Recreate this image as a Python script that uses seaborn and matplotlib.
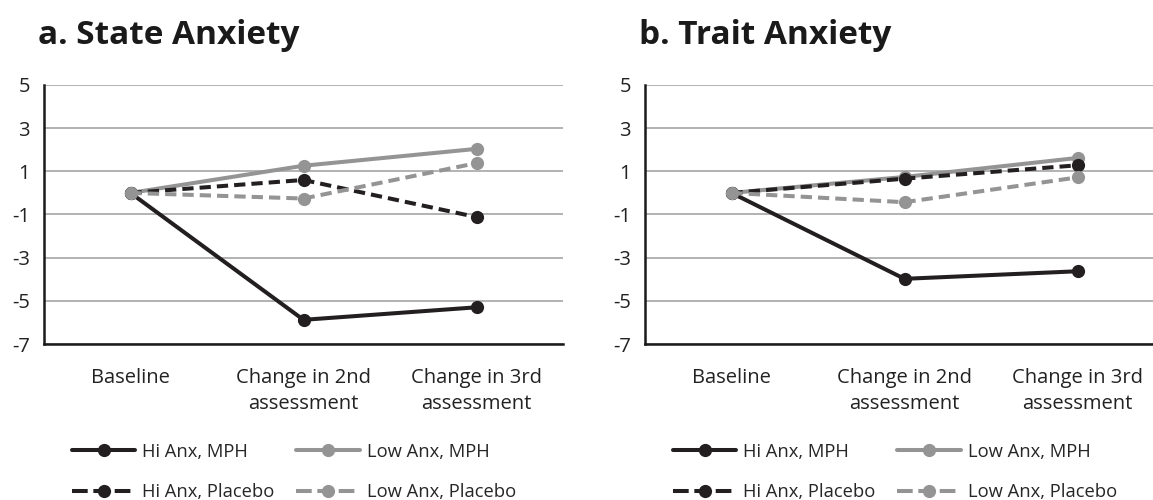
import pandas as pd
import numpy as np
import matplotlib.pyplot as plt
import seaborn as sns

# categories and series values
timepoints = ['Baseline', 'Change in 2nd\nassessment', 'Change in 3rd\nassessment']
groups = ['Hi Anx, MPH', 'Hi Anx, Placebo', 'Low Anx, MPH', 'Low Anx, Placebo']

state_hi_mph = [0.0, -5.88, -5.30]
state_hi_placebo = [0.0, 0.60, -1.12]
state_low_mph = [0.0, 1.26, 2.04]
state_low_placebo = [0.0, -0.26, 1.38]

trait_hi_mph = [0.0, -3.98, -3.63]
trait_hi_placebo = [0.0, 0.66, 1.28]
trait_low_mph = [0.0, 0.74, 1.62]
trait_low_placebo = [0.0, -0.43, 0.72]

y_ticks = [-7, -5, -3, -1, 1, 3, 5]
panel_titles = ['a. State Anxiety', 'b. Trait Anxiety']

DARK = '#231f20'
GRAY = '#949494'
palette = {groups[0]: DARK, groups[1]: DARK, groups[2]: GRAY, groups[3]: GRAY}
dashes = {groups[0]: '', groups[1]: (2.8, 1.5), groups[2]: '', groups[3]: (2.8, 1.5)}
markers = {g: 'o' for g in groups}
LW = 2.9
MS = 9.5


def to_long(series):
    rows = []
    for g, vals in zip(groups, series):
        for t, v in zip(timepoints, vals):
            rows.append({'time': t, 'group': g, 'value': v})
    return pd.DataFrame(rows)


state_df = to_long([state_hi_mph, state_hi_placebo, state_low_mph, state_low_placebo])
trait_df = to_long([trait_hi_mph, trait_hi_placebo, trait_low_mph, trait_low_placebo])

sns.set_theme(style='white')
plt.rcParams['font.family'] = ['Open Sans', 'DejaVu Sans']

W, H = 1153, 500
fig = plt.figure(figsize=(W / 100, H / 100), dpi=100)
# right panel is cut off by the figure edge in the original
ax_left = fig.add_axes([44 / W, 156 / H, 519 / W, 259 / H])
ax_right = fig.add_axes([645 / W, 156 / H, 519 / W, 259 / H])

for ax, df, title, ax_px in [(ax_left, state_df, panel_titles[0], 44),
                             (ax_right, trait_df, panel_titles[1], 645)]:
    # same series order as the source: later series sit on top
    order_draw = [groups[0], groups[2], groups[1], groups[3]]
    for g in order_draw:
        sub = df[df['group'] == g]
        sns.lineplot(data=sub, x='time', y='value', hue='group', style='group',
                     palette=palette, dashes=dashes, markers=markers,
                     markersize=MS, markeredgewidth=0, linewidth=LW,
                     sort=False, ax=ax, legend=False)

    ax.set_xlim(-0.5, 2.5)
    ax.set_ylim(-7, 5)
    ax.set_xticks(range(len(timepoints)))
    ax.set_xticklabels(timepoints, linespacing=1.45)
    ax.set_yticks(y_ticks)
    ax.set_yticklabels([str(t) for t in y_ticks])
    ax.set_xlabel('')
    ax.set_ylabel('')
    ax.yaxis.grid(True, color='#a6a6a6', linewidth=1.2)
    ax.set_axisbelow(True)
    for side in ['top', 'right']:
        ax.spines[side].set_visible(False)
    for side in ['left', 'bottom']:
        ax.spines[side].set_color('#1a1a1a')
        ax.spines[side].set_linewidth(1.8)
    ax.tick_params(axis='both', length=0, labelsize=14.5, colors='#222222')
    ax.tick_params(axis='y', pad=10)
    ax.tick_params(axis='x', pad=17)

    # legend below each panel
    handles = []
    for g in groups:
        h, = ax.plot([], [], color=palette[g], linewidth=LW, marker='o',
                     markersize=MS, markeredgewidth=0,
                     linestyle='-' if dashes[g] == '' else (0, (3.9, 1.4)))
        handles.append(h)
    fig.legend(handles, groups, loc='center left',
               bbox_to_anchor=((ax_px + 28) / W, 28 / H),
               ncol=2, frameon=False, fontsize=13.2, handlelength=3.45,
               handletextpad=0.38, columnspacing=1.2, labelspacing=1.22,
               borderpad=0, borderaxespad=0)

    fig.text((ax_px - 6) / W, 1 - 44 / H, title, fontsize=24, fontweight='bold',
             color='#1a1a1a', ha='left', va='baseline')

fig.savefig('out.png', dpi=100)
